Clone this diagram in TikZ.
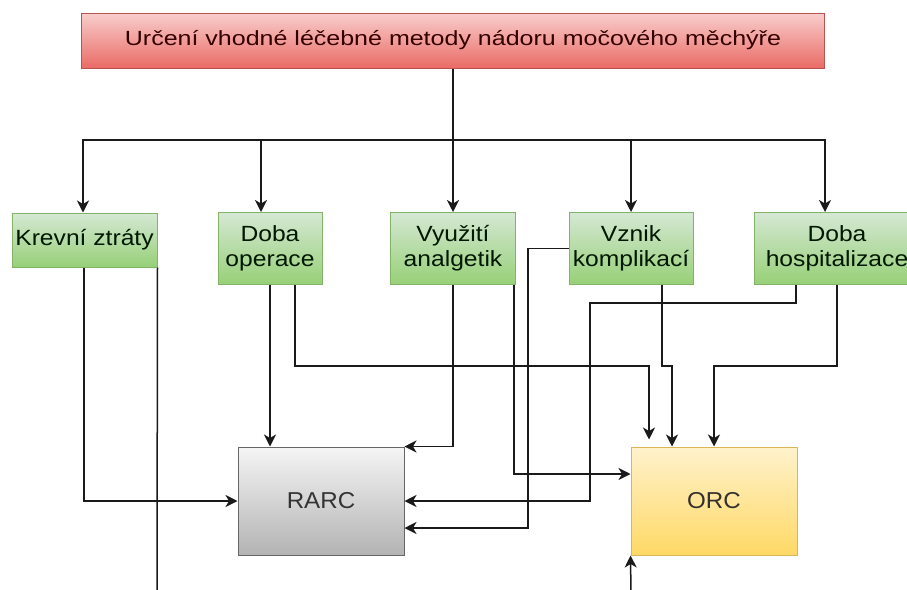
\documentclass[tikz,border=0pt]{standalone}
\usepackage{fontspec}
\setmainfont{Liberation Sans}
\newfontfamily\topfont[FakeStretch=1.22]{Liberation Sans}
\newfontfamily\grfont[FakeStretch=1.12]{Liberation Sans}
\newfontfamily\bxfont[FakeStretch=1.05]{Liberation Sans}
\usetikzlibrary{arrows.meta}
\definecolor{redT}{HTML}{F8CECC}\definecolor{redB}{HTML}{EA6B66}\definecolor{redD}{HTML}{B85450}
\definecolor{grnT}{HTML}{D5E8D4}\definecolor{grnB}{HTML}{97D077}\definecolor{grnD}{HTML}{82B366}
\definecolor{gryT}{HTML}{F5F5F5}\definecolor{gryB}{HTML}{B3B3B3}\definecolor{gryD}{HTML}{666666}
\definecolor{ylwT}{HTML}{FFF2CC}\definecolor{ylwB}{HTML}{FFD966}\definecolor{ylwD}{HTML}{D6B656}
\definecolor{lnc}{HTML}{1A1A1A}
\tikzset{
  box/.style={draw, line width=1pt, inner sep=0pt, align=center},
  redbox/.style={box, draw=redD, top color=redT, bottom color=redB, text=black!80!red,
     font=\topfont\fontsize{20.5}{24}\selectfont},
  grnbox/.style={box, draw=grnD, top color=grnT, bottom color=grnB, text=black!85!green!60!black,
     font=\grfont\fontsize{22}{25}\selectfont},
  gbox/.style={box, draw=gryD, top color=gryT, bottom color=gryB, text=black!80,
     font=\bxfont\fontsize{23}{26}\selectfont},
  ybox/.style={box, draw=ylwD, top color=ylwT, bottom color=ylwB, text=black!80!yellow!40!black,
     font=\bxfont\fontsize{23}{26}\selectfont},
  ln/.style={draw=lnc, line width=1.5pt},
  arr/.style={ln, -{Stealth[length=12pt,width=12pt,inset=3.5pt]}}
}
\begin{document}
\begin{tikzpicture}[x=1pt,y=-1pt]
\useasboundingbox (0,0) rectangle (907,589);
\fill[white] (0,0) rectangle (907,589);
\node[redbox, minimum width=743pt, minimum height=55pt] (top) at (453,40.5) {Určení vhodné léčebné metody nádoru močového měchýře};
\node[grnbox, minimum width=145pt, minimum height=54pt] (kr) at (84.5,240) {Krevní ztráty};
\node[grnbox, minimum width=104pt, minimum height=72pt] (do) at (270,248.5) {Doba\\operace};
\node[grnbox, minimum width=125pt, minimum height=72pt] (va) at (453,248.5) {Využití\\analgetik};
\node[grnbox, minimum width=124pt, minimum height=72pt] (vk) at (631,248.5) {Vznik\\komplikací};
\node[grnbox, minimum width=166pt, minimum height=72pt] (dh) at (837,248.5) {Doba\\hospitalizace};
\node[gbox, minimum width=166pt, minimum height=108pt] (rarc) at (321,501) {RARC};
\node[ybox, minimum width=166pt, minimum height=108pt] (orc) at (714,501) {ORC};
\coordinate (bus) at (453,140);
\coordinate (kb) at (157,595);
\coordinate (ob) at (631,595);
% distribution
\draw[arr] (top.south) -- (va.north);
\draw[arr] (bus) -| ([xshift=-1.5pt]kr.north);
\draw[arr] (bus) -| ([xshift=-9pt]do.north);
\draw[arr] (bus) -| (vk.north);
\draw[arr] (bus) -| ([xshift=-12pt]dh.north);
% Krevni
\draw[arr] ([xshift=-0.5pt]kr.south) |- (rarc.west);
\draw[ln] (kr.south east) -- (kb);
\draw[arr] (ob) -- (orc.south west);
% Doba operace
\draw[arr] (do.south) -- (do.south |- rarc.north);
\draw[arr] ([xshift=25pt]do.south) -- (295,366) -- (649,366) -- ([xshift=-65pt,yshift=7pt]orc.north);
% Vyuziti
\draw[arr] (va.south) |- (rarc.north east);
\draw[arr] ([xshift=61pt]va.south) |- ([yshift=27pt]orc.west);
% Vznik
\draw[arr] (vk.west) -- (528,248.5) -- (528,528) -- ([yshift=-27pt]rarc.east);
\draw[arr] ([xshift=31pt]vk.south) -- (662,366) -- (672,366) -- ([xshift=-42pt]orc.north);
% Doba hospitalizace
\draw[arr] ([xshift=-41pt]dh.south) -- (796,303) -- (590,303) |- (rarc.east);
\draw[arr] (dh.south) -- (837,366) -- (714,366) -- (orc.north);
\end{tikzpicture}
\end{document}
